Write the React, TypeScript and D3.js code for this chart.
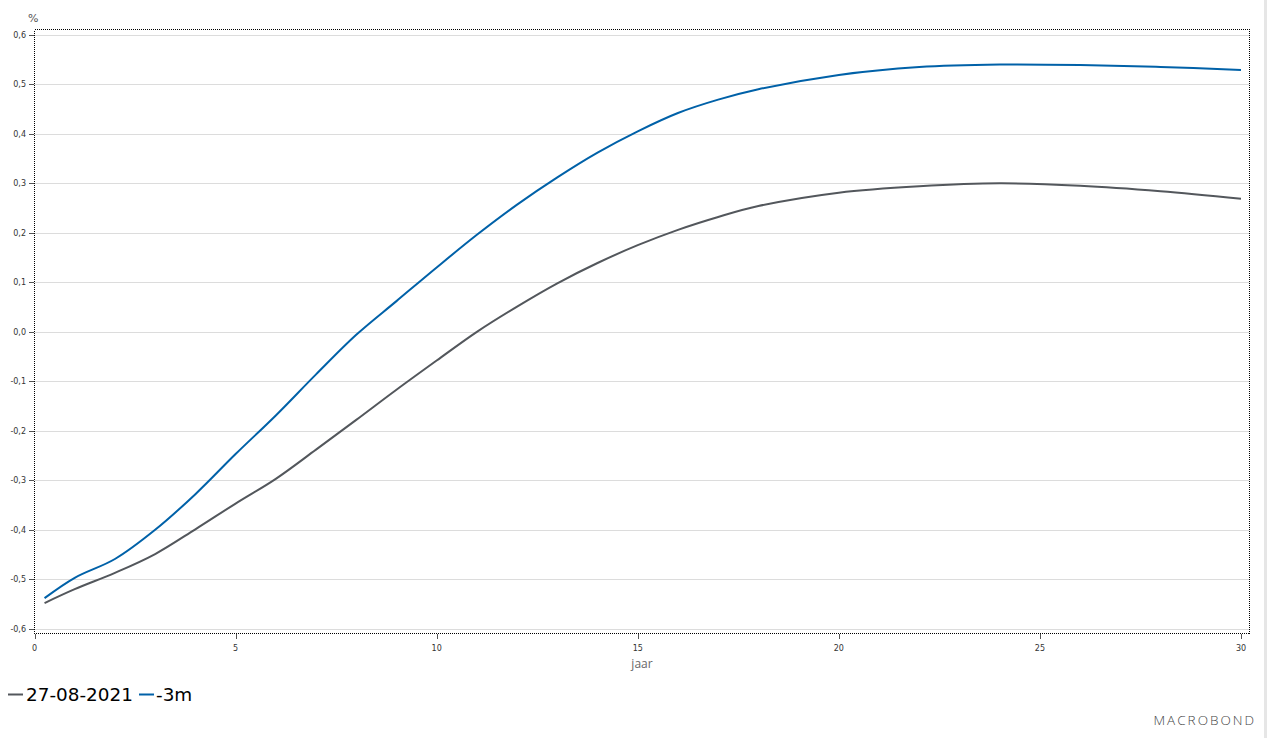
import React from "react";
import * as d3 from "d3";

const years = [0.25, 1, 2, 3, 4, 5, 6, 7, 8, 9, 10, 11, 12, 13, 14, 15, 16, 17, 18, 20, 22, 24, 26, 28, 30];
const seriesCurrent = [-0.548, -0.52, -0.487, -0.449, -0.399, -0.347, -0.297, -0.238, -0.178, -0.117, -0.058, 0.0, 0.051, 0.098, 0.139, 0.175, 0.206, 0.232, 0.254, 0.281, 0.294, 0.3, 0.295, 0.284, 0.269];
const seriesMinus3m = [-0.538, -0.497, -0.459, -0.4, -0.328, -0.247, -0.169, -0.086, -0.006, 0.062, 0.13, 0.196, 0.257, 0.312, 0.362, 0.405, 0.442, 0.469, 0.49, 0.519, 0.535, 0.54, 0.539, 0.535, 0.529];
const seriesNames = ["27-08-2021", "-3m"];
const seriesColors = ["#53575c", "#0061a8"];
const yTicks = [-0.6, -0.5, -0.4, -0.3, -0.2, -0.1, 0, 0.1, 0.2, 0.3, 0.4, 0.5, 0.6];
const xTicks = [0, 5, 10, 15, 20, 25, 30];

const W = 1267;
const H = 738;
const plotLeft = 34.5;
const plotRight = 1249.5;
const plotTop = 29.5;
const plotBottom = 633.5;

export default function App() {
  const x = d3.scaleLinear().domain([0, 30]).range([34.5, 1241]);
  const y = d3.scaleLinear().domain([-0.6, 0.6]).range([628.8, 34.8]);
  const fmt = (v: number) => v.toFixed(1).replace(".", ",").replace("-0,0", "0,0");
  const line = d3
    .line<number>()
    .x((_, i) => x(years[i]))
    .y((d) => y(d))
    .curve(d3.curveCatmullRom.alpha(0.5));
  const data = [seriesCurrent, seriesMinus3m];
  const tickFont = "'DejaVu Sans', Verdana, sans-serif";

  return (
    <svg
      width={W}
      height={H}
      style={{ position: "absolute", left: 0, top: 0, background: "#fff" }}
      viewBox={`0 0 ${W} ${H}`}
    >
      <rect x={0} y={0} width={W} height={H} fill="#fff" />
      <rect x={1264} y={0} width={3} height={H} fill="#e6e6e6" />
      {/* grid */}
      {yTicks.map((t) => (
        <line
          key={"g" + t}
          x1={plotLeft}
          x2={plotRight}
          y1={Math.round(y(t)) + 0.5}
          y2={Math.round(y(t)) + 0.5}
          stroke="#dcdcdc"
          strokeWidth={1}
        />
      ))}
      {/* y ticks and labels */}
      {yTicks.map((t) => (
        <g key={"y" + t}>
          <line x1={29} x2={34} y1={Math.round(y(t)) + 0.5} y2={Math.round(y(t)) + 0.5} stroke="#555" strokeWidth={1} />
          <text
            x={26}
            y={y(t)}
            dy="0.35em"
            textAnchor="end"
            fontFamily={tickFont}
            fontSize={8}
            fill="#333"
          >
            {fmt(t)}
          </text>
        </g>
      ))}
      <text x={28} y={22} fontFamily={tickFont} fontSize={11} fill="#555">
        %
      </text>
      {/* x ticks and labels */}
      {xTicks.map((t) => (
        <g key={"x" + t}>
          <line x1={Math.round(x(t)) + 0.5} x2={Math.round(x(t)) + 0.5} y1={634} y2={639} stroke="#555" strokeWidth={1} />
          <text
            x={x(t)}
            y={651}
            textAnchor="middle"
            fontFamily={tickFont}
            fontSize={8}
            fill="#333"
          >
            {t}
          </text>
        </g>
      ))}
      <text
        x={(plotLeft + plotRight) / 2}
        y={668}
        textAnchor="middle"
        fontFamily="'Open Sans', 'Noto Sans', sans-serif"
        fontSize={12}
        fill="#666"
      >
        jaar
      </text>
      {/* series */}
      {data.map((s, i) => (
        <path key={"s" + i} d={line(s) || ""} fill="none" stroke={seriesColors[i]} strokeWidth={2} />
      ))}
      {/* plot border */}
      <rect
        x={plotLeft}
        y={plotTop}
        width={plotRight - plotLeft}
        height={plotBottom - plotTop}
        fill="none"
        stroke="#000"
        strokeWidth={1}
        strokeDasharray="1,1"
        shapeRendering="crispEdges"
      />
      {/* legend */}
      <g fontFamily={tickFont} fontSize={18.4} fill="#000">
        <line x1={8} x2={23} y1={694.5} y2={694.5} stroke={seriesColors[0]} strokeWidth={2} />
        <text x={26} y={701}>{seriesNames[0]}</text>
        <line x1={139} x2={154} y1={694.5} y2={694.5} stroke={seriesColors[1]} strokeWidth={2} />
        <text x={156} y={701}>{seriesNames[1]}</text>
      </g>
      <text
        x={1256}
        y={725}
        textAnchor="end"
        fontFamily="'Open Sans', 'Noto Sans', sans-serif"
        fontSize={13.5}
        letterSpacing={2}
        fill="#444"
        fontWeight={300}
      >
        MACROBOND
      </text>
    </svg>
  );
}
